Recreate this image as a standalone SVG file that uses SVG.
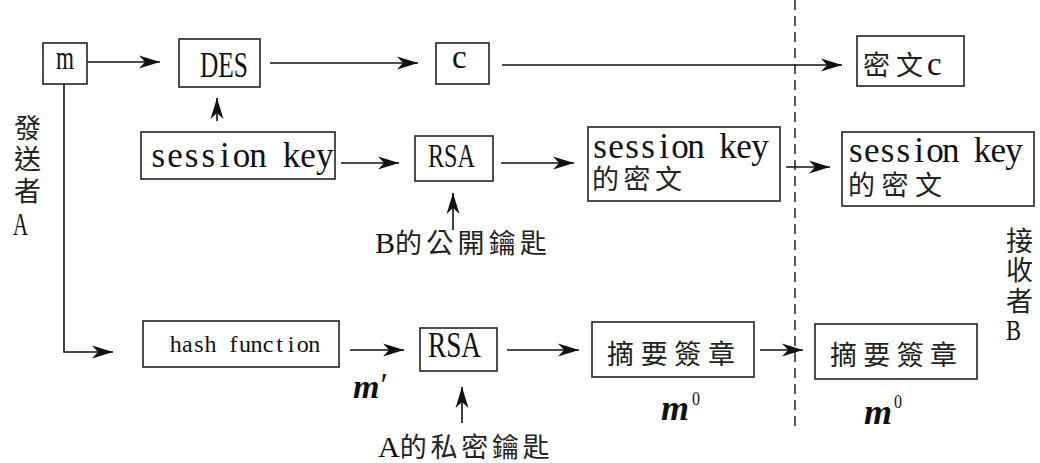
<svg xmlns="http://www.w3.org/2000/svg" width="1040" height="463" viewBox="0 0 1040 463">
  <style>
    .box { fill: #ffffff; stroke: #222222; stroke-width: 1.6; }
    .wire { fill: none; stroke: #111111; stroke-width: 1.6; }
    .divider { fill: none; stroke: #333333; stroke-width: 1.6; stroke-dasharray: 10 6; }
    .serif { font-family: "Liberation Serif", "Noto Sans CJK TC", serif; fill: #111111; }
    .cell { font-family: "Liberation Serif", serif; fill: #111111; text-anchor: middle; }
    .cjk { font-family: "Noto Sans CJK TC", sans-serif; fill: #222222; font-size: 27px; }
    .math { font-family: "Liberation Serif", serif; font-style: italic; font-weight: bold; fill: #111111; }
    .sup { font-family: "Liberation Serif", serif; fill: #111111; }
  </style>
  <defs>
    <marker id="arrow" markerUnits="userSpaceOnUse" markerWidth="21" markerHeight="14" refX="21" refY="7" orient="auto">
      <path d="M0,0.5 L21,7 L0,13.5 L6,7 Z" fill="#111111"/>
    </marker>
  </defs>

  <rect width="1040" height="463" fill="#ffffff"/>

  <!-- boundary between sender and receiver -->
  <path class="divider" d="M795,0 V430"/>

  <!-- connectors -->
  <g id="connectors">
    <path class="wire" d="M87,62 H160" marker-end="url(#arrow)"/>
    <path class="wire" d="M217,121 V98" marker-end="url(#arrow)"/>
    <path class="wire" d="M270,63 H418" marker-end="url(#arrow)"/>
    <path class="wire" d="M502,65 H842" marker-end="url(#arrow)"/>
    <path class="wire" d="M341,163 H399" marker-end="url(#arrow)"/>
    <path class="wire" d="M501,163 H574" marker-end="url(#arrow)"/>
    <path class="wire" d="M786,167 H830" marker-end="url(#arrow)"/>
    <path class="wire" d="M453,230 V193" marker-end="url(#arrow)"/>
    <path class="wire" d="M64,84 V352 H113" marker-end="url(#arrow)"/>
    <path class="wire" d="M350,350 H404" marker-end="url(#arrow)"/>
    <path class="wire" d="M507,350 H579" marker-end="url(#arrow)"/>
    <path class="wire" d="M760,350 H803" marker-end="url(#arrow)"/>
    <path class="wire" d="M462,423 V387" marker-end="url(#arrow)"/>
  </g>

  <!-- sender side -->
  <g id="sender-label">
    <text class="cjk" x="14" y="138">發</text>
    <text class="cjk" x="14" y="169">送</text>
    <text class="cjk" x="14" y="201">者</text>
    <text class="serif" x="13" y="235" font-size="32" textLength="15" lengthAdjust="spacingAndGlyphs">A</text>
  </g>

  <g id="node-m">
    <rect class="box" x="43" y="43" width="44" height="41"/>
    <text class="serif" x="56" y="69" font-size="33" textLength="18" lengthAdjust="spacingAndGlyphs">m</text>
  </g>

  <g id="node-des">
    <rect class="box" x="179" y="39" width="81" height="48"/>
    <text class="serif" x="200" y="77" font-size="35" textLength="48" lengthAdjust="spacingAndGlyphs">DES</text>
  </g>

  <g id="node-c">
    <rect class="box" x="436" y="43" width="53" height="41"/>
    <text class="serif" x="452" y="68" font-size="33">c</text>
  </g>

  <!-- "session key" is set on a fixed cell pitch, one glyph per cell -->
  <g id="node-session-key">
    <rect class="box" x="141" y="132" width="194" height="47"/>
    <text class="cell" x="158.3 174.9 191.6 208.2 224.9 241.5 258.1 274.8 291.4 308.1 324.7" y="167" font-size="35">session key</text>
  </g>

  <g id="node-rsa-encrypt">
    <rect class="box" x="415" y="136" width="78" height="45"/>
    <text class="serif" x="428" y="167" font-size="34" textLength="47" lengthAdjust="spacingAndGlyphs">RSA</text>
  </g>

  <g id="node-key-cipher">
    <rect class="box" x="588" y="127" width="192" height="74"/>
    <text class="cell" x="600 616 632 648 664 680 696 712 728 744 760" y="158" font-size="35">session key</text>
    <text class="cjk" x="592" y="189" textLength="90" lengthAdjust="spacing">的密文</text>
  </g>

  <g id="label-b-public-key">
    <text x="375" y="253"><tspan class="serif" font-size="30">B</tspan><tspan class="cjk" textLength="152" lengthAdjust="spacing">的公開鑰匙</tspan></text>
  </g>

  <g id="node-hash">
    <rect class="box" x="143" y="321" width="196" height="46"/>
    <text class="cell" x="175.8 187.3 198.9 210.4 222 233.5 245 256.6 268.1 279.7 291.2 302.7 314.3" y="352" font-size="24">hash function</text>
  </g>

  <g id="label-m-prime">
    <text class="math" x="353" y="398" font-size="34">m<tspan font-style="normal" font-weight="normal" dx="1" dy="-2">′</tspan></text>
  </g>

  <g id="node-rsa-sign">
    <rect class="box" x="420" y="328" width="77" height="43"/>
    <text class="serif" x="428" y="357" font-size="36" textLength="53" lengthAdjust="spacingAndGlyphs">RSA</text>
  </g>

  <g id="label-a-private-key">
    <text x="378" y="457"><tspan class="serif" font-size="30">A</tspan><tspan class="cjk" textLength="150" lengthAdjust="spacing">的私密鑰匙</tspan></text>
  </g>

  <g id="node-signature">
    <rect class="box" x="592" y="322" width="162" height="55"/>
    <text class="cjk" x="607" y="364" textLength="128" lengthAdjust="spacing">摘要簽章</text>
  </g>

  <g id="label-m0-sender">
    <text class="math" x="661" y="420" font-size="36">m</text>
    <text class="sup" x="692" y="405" font-size="19" textLength="8" lengthAdjust="spacingAndGlyphs">0</text>
  </g>

  <!-- receiver side -->
  <g id="node-cipher-c">
    <rect class="box" x="857" y="36" width="107" height="50"/>
    <text class="cjk" x="863" y="75" textLength="60" lengthAdjust="spacing">密文</text>
    <text class="serif" x="927" y="75" font-size="33">c</text>
  </g>

  <g id="node-key-cipher-received">
    <rect class="box" x="842" y="132" width="192" height="74"/>
    <text class="cell" x="855.9 871.7 887.5 903.4 919.2 935 950.8 966.6 982.5 998.3 1014.1" y="162" font-size="35">session key</text>
    <text class="cjk" x="848" y="195" textLength="94" lengthAdjust="spacing">的密文</text>
  </g>

  <g id="receiver-label">
    <text class="cjk" x="1006" y="251">接</text>
    <text class="cjk" x="1006" y="280">收</text>
    <text class="cjk" x="1006" y="311">者</text>
    <text class="serif" x="1006" y="340" font-size="30" textLength="15" lengthAdjust="spacingAndGlyphs">B</text>
  </g>

  <g id="node-signature-received">
    <rect class="box" x="815" y="324" width="162" height="55"/>
    <text class="cjk" x="830" y="365" textLength="127" lengthAdjust="spacing">摘要簽章</text>
  </g>

  <g id="label-m0-receiver">
    <text class="math" x="864" y="424" font-size="36">m</text>
    <text class="sup" x="894" y="408" font-size="19" textLength="8" lengthAdjust="spacingAndGlyphs">0</text>
  </g>
</svg>
